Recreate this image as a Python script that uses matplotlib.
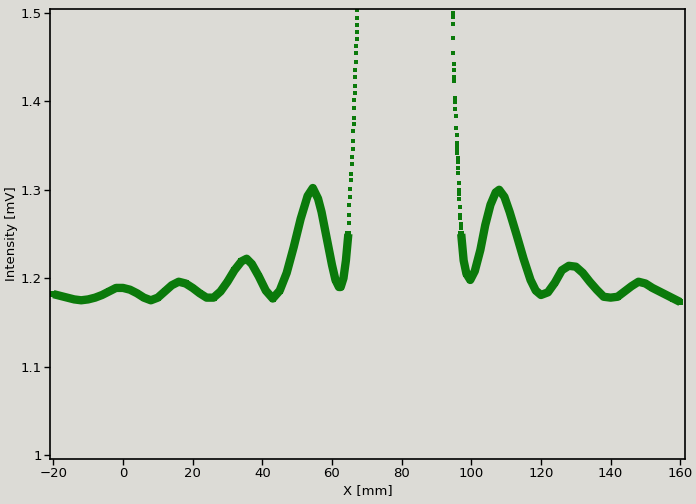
import matplotlib
matplotlib.use("Agg")
import matplotlib.pyplot as plt

# smooth part, left of the central peak
left_x = [-20, -18, -16, -14, -12, -10, -8, -6, -4, -2, 0, 2, 4, 6, 8, 10, 12, 14, 16, 18,
          20, 22, 24, 26, 28, 30, 32, 34, 35.5, 37, 39, 41, 43, 45, 47, 49, 51, 53, 54.5,
          56, 57, 58, 59, 60, 61, 62, 62.5, 63.3, 64.0, 64.7]
left_y = [1.182, 1.180, 1.178, 1.176, 1.175, 1.176, 1.178, 1.181, 1.185, 1.189, 1.189, 1.187,
          1.183, 1.178, 1.175, 1.178, 1.185, 1.192, 1.196, 1.194, 1.189, 1.183, 1.178, 1.178,
          1.185, 1.196, 1.209, 1.219, 1.222, 1.216, 1.202, 1.186, 1.177, 1.186, 1.206, 1.235,
          1.267, 1.293, 1.302, 1.290, 1.275, 1.255, 1.235, 1.215, 1.198, 1.190, 1.190, 1.200,
          1.220, 1.250]

# smooth part, right of the central peak
right_x = [97.1, 97.8, 98.6, 99.7, 101, 102.6, 104, 105.5, 107, 108, 109.5, 111, 113, 115,
           117, 118.5, 120, 122, 124, 126, 128, 130, 132, 134, 136, 138, 140, 142, 144, 146,
           148, 150, 152, 154, 156, 158, 160]
right_y = [1.250, 1.220, 1.205, 1.198, 1.208, 1.232, 1.260, 1.283, 1.297, 1.300, 1.292, 1.275,
           1.249, 1.222, 1.198, 1.186, 1.181, 1.184, 1.195, 1.209, 1.214, 1.213, 1.206, 1.196,
           1.187, 1.179, 1.178, 1.179, 1.185, 1.191, 1.196, 1.194, 1.189, 1.185, 1.181, 1.177,
           1.173]

# steep flanks, drawn as separate points
rise_x = [64.8, 64.9, 65.0, 65.1, 65.2, 65.4, 65.5, 65.7, 65.8, 65.95, 66.05, 66.1, 66.2, 66.25,
          66.35, 66.4, 66.5, 66.55, 66.65, 66.75, 66.85, 66.95, 67.0, 67.1, 67.15, 67.2, 67.25, 67.3]
rise_y = [1.262, 1.271, 1.283, 1.292, 1.301, 1.311, 1.318, 1.329, 1.337, 1.346, 1.355, 1.366,
          1.374, 1.381, 1.392, 1.401, 1.409, 1.417, 1.428, 1.436, 1.444, 1.455, 1.463, 1.471,
          1.478, 1.486, 1.494, 1.503]
fall_x = [94.65, 94.65, 94.7, 94.8, 94.85, 94.9, 95.0, 95.1, 95.15, 95.3, 95.35, 95.45, 95.55,
          95.65, 95.75, 95.85, 95.9, 95.95, 96.0, 96.05, 96.1, 96.2, 96.3, 96.4, 96.5, 96.55,
          96.6, 96.7, 96.8, 96.85, 96.95, 97.0]
fall_y = [1.500, 1.495, 1.488, 1.472, 1.455, 1.442, 1.436, 1.427, 1.423, 1.404, 1.399, 1.391,
          1.383, 1.370, 1.362, 1.353, 1.349, 1.345, 1.342, 1.336, 1.331, 1.325, 1.319, 1.308,
          1.300, 1.295, 1.290, 1.280, 1.272, 1.268, 1.261, 1.257]

x_ticks = [-20, 0, 20, 40, 60, 80, 100, 120, 140, 160]
y_ticks = [1, 1.1, 1.2, 1.3, 1.4, 1.5]
y_tick_labels = ["1", "1.1", "1.2", "1.3", "1.4", "1.5"]

bg = "#dcdbd6"
green = "#0b7a0b"

fig = plt.figure(figsize=(6.96, 5.04), dpi=100, facecolor=bg)
ax = fig.add_axes([0.0718, 0.0893, 0.9124, 0.8929])
ax.set_facecolor(bg)

for xs, ys in [(left_x, left_y), (right_x, right_y)]:
  ax.plot(xs, ys, color=green, lw=6, solid_capstyle="butt")
  ax.plot(xs, ys, ls="none", marker="s", ms=5, color=green, mew=0)
for xs, ys in [(rise_x, rise_y), (fall_x, fall_y)]:
  ax.plot(xs, ys, ls="none", marker="s", ms=3.2, color=green, mew=0)

ax.set_xlim(-20.96, 161.35)
ax.set_ylim(0.9955, 1.5045)
ax.set_xticks(x_ticks)
ax.set_yticks(y_ticks)
ax.set_yticklabels(y_tick_labels)
ax.tick_params(direction="out", length=4, width=1, labelsize=9.5, colors="black", pad=2)
for s in ax.spines.values():
  s.set_linewidth(1.2)
ax.set_xlabel("X [mm]", fontsize=9.5, labelpad=3)
ax.set_ylabel("Intensity [mV]", fontsize=9.5, labelpad=2)

fig.savefig("out.png", dpi=100, facecolor=bg)
